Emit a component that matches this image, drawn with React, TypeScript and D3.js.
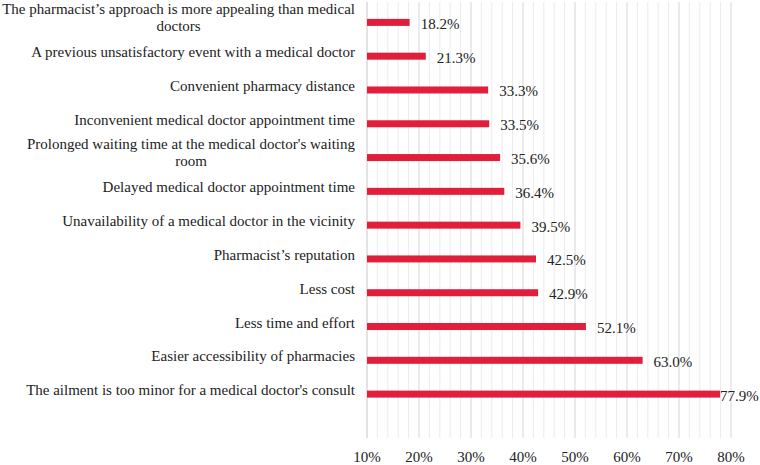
import React, { useEffect, useRef } from 'react';
import * as d3 from 'd3';

const categories = [
  'The pharmacist\u2019s approach is more appealing than medical|doctors',
  'A previous unsatisfactory event with a medical doctor',
  'Convenient pharmacy distance',
  'Inconvenient medical doctor appointment time',
  "Prolonged waiting time at the medical doctor's waiting|room",
  'Delayed medical doctor appointment time',
  'Unavailability of a medical doctor in the vicinity',
  'Pharmacist\u2019s reputation',
  'Less cost',
  'Less time and effort',
  'Easier accessibility of pharmacies',
  "The ailment is too minor for a medical doctor's consult",
];
const values = [18.2, 21.3, 33.3, 33.5, 35.6, 36.4, 39.5, 42.5, 42.9, 52.1, 63.0, 77.9];
const majorTicks = [10, 20, 30, 40, 50, 60, 70, 80];

const W = 760;
const H = 465;

export default function App() {
  const ref = useRef<SVGSVGElement>(null);

  useEffect(() => {
    const svg = d3.select(ref.current);
    svg.selectAll('*').remove();
    const font = "'Liberation Serif', 'Times New Roman', serif";
    const fs = 15;

    const x = d3.scaleLinear().domain([10, 80]).range([367, 731]);
    const y = d3.scaleBand().domain(categories).range([5.5, 411]);
    const plotTop = 2;
    const plotBottom = 438;

    // minor gridlines every 2%
    const minor = d3.range(12, 80, 2).filter(v => v % 10 !== 0);
    svg.append('g').selectAll('line').data(minor).enter().append('line')
      .attr('x1', d => x(d)).attr('x2', d => x(d))
      .attr('y1', plotTop).attr('y2', plotBottom)
      .attr('stroke', '#ececec').attr('stroke-width', 1);

    svg.append('g').selectAll('line').data(majorTicks).enter().append('line')
      .attr('x1', d => x(d)).attr('x2', d => x(d))
      .attr('y1', plotTop).attr('y2', plotBottom)
      .attr('stroke', d => d === 10 ? '#c8c8c8' : '#d6d6d6').attr('stroke-width', 1);

    // tick labels
    svg.append('g').selectAll('text').data(majorTicks).enter().append('text')
      .attr('x', d => x(d)).attr('y', 462)
      .attr('text-anchor', 'middle')
      .attr('font-family', font).attr('font-size', fs).attr('fill', '#222')
      .text(d => `${d}%`);

    const bw = 7;
    const rows = categories.map((c, i) => ({ c, v: values[i] }));

    svg.append('g').selectAll('rect').data(rows).enter().append('rect')
      .attr('x', x(10))
      .attr('y', d => (y(d.c) as number) + y.bandwidth() / 2 - bw / 2)
      .attr('width', d => x(d.v) - x(10))
      .attr('height', bw)
      .attr('fill', '#e11f3b');

    // value labels
    svg.append('g').selectAll('text').data(rows).enter().append('text')
      .attr('x', d => Math.min(x(d.v) + 11, 720))
      .attr('y', d => (y(d.c) as number) + y.bandwidth() / 2 + 6.5)
      .attr('font-family', font).attr('font-size', fs).attr('fill', '#222')
      .text(d => `${d.v.toFixed(1)}%`);

    // category labels
    const right = 355;
    const g = svg.append('g');
    rows.forEach(d => {
      const cy = (y(d.c) as number) + y.bandwidth() / 2;
      const lines = d.c.split('|');
      if (lines.length === 1) {
        g.append('text')
          .attr('x', right).attr('y', cy + 1)
          .attr('text-anchor', 'end')
          .attr('font-family', font).attr('font-size', fs).attr('fill', '#222')
          .text(lines[0]);
      } else {
        const t = g.append('text')
          .attr('font-family', font).attr('font-size', fs).attr('fill', '#222')
          .attr('text-anchor', 'middle');
        const spans = lines.map((l, i) => t.append('tspan')
          .attr('y', cy - 8.5 + i * 17)
          .text(l));
        const widths = spans.map(s => (s.node() as SVGTSpanElement).getComputedTextLength());
        const maxW = Math.max(...widths);
        spans.forEach(s => s.attr('x', right - maxW / 2));
      }
    });
  }, []);

  return (
    <svg ref={ref} width={W} height={H}
      style={{ position: 'absolute', left: 0, top: 0, background: '#fff' }} />
  );
}
